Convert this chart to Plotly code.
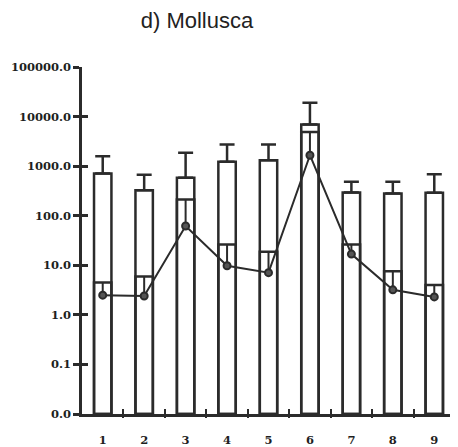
import plotly.graph_objects as go

categories = [1, 2, 3, 4, 5, 6, 7, 8, 9]
x_labels = ["1", "2", "3", "4", "5", "6", "7", "8", "9"]
outer_values = [713, 328, 581, 1222, 1321, 6900, 295, 282, 290]
outer_upper = [1592, 668, 1853, 2736, 2736, 18900, 483, 483, 690]
inner_values = [4.5, 5.9, 213, 26.4, 18.7, 4900, 26.4, 7.6, 4.0]
line_values = [2.5, 2.4, 62, 9.8, 7.1, 1660, 16.8, 3.2, 2.3]
y_tickvals = [0.01, 0.1, 1, 10, 100, 1000, 10000, 100000]
y_ticktext = ["0.0", "0.1", "1.0", "10.0", "100.0", "1000.0", "10000.0", "100000.0"]
boundaries = [1.5, 2.5, 3.5, 4.5, 5.5, 6.5, 7.5, 8.5]

INK = "#2b2b2b"
tick_font = dict(family="DejaVu Serif", size=11.5, color="#1e1e1e", weight="bold")

fig = go.Figure()
fig.add_trace(go.Bar(
    x=categories, y=outer_values, width=0.42,
    marker=dict(color="white", line=dict(color=INK, width=2.5)),
    error_y=dict(type="data", symmetric=False,
                 array=[u - v for u, v in zip(outer_upper, outer_values)],
                 arrayminus=[0] * len(outer_values),
                 color=INK, thickness=2.5, width=7.5),
    base=0.01,
))
fig.add_trace(go.Bar(
    x=categories, y=inner_values, width=0.42,
    marker=dict(color="rgba(0,0,0,0)", line=dict(color=INK, width=2.5)),
    base=0.01,
))
fig.add_trace(go.Scatter(
    x=categories, y=line_values, mode="lines+markers",
    line=dict(color=INK, width=2),
    marker=dict(symbol="circle", size=7, color="#555", line=dict(color=INK, width=2)),
    error_y=dict(type="data", symmetric=False,
                 array=[i - v for i, v in zip(inner_values, line_values)],
                 arrayminus=[0] * len(line_values),
                 color=INK, thickness=2, width=0),
))
# invisible helper traces for the crossing ticks
fig.add_trace(go.Scatter(x=[1], y=[1], xaxis="x2", yaxis="y2", mode="markers",
                         marker=dict(opacity=0), hoverinfo="skip"))
fig.add_trace(go.Scatter(x=[1], y=[1], xaxis="x3", yaxis="y", mode="markers",
                         marker=dict(opacity=0), hoverinfo="skip"))

fig.update_layout(
    width=458, height=447,
    margin=dict(l=74, r=11, t=59, b=41, autoexpand=False),
    paper_bgcolor="white", plot_bgcolor="white",
    barmode="overlay", showlegend=False,
    title=dict(text="d) Mollusca", x=189 / 458, xanchor="center",
               y=1 - 20 / 447, yanchor="bottom",
               font=dict(family="Liberation Sans, Arial", size=22, color="#222")),
    xaxis=dict(range=[0.5, 9.5], tickmode="array", tickvals=categories, ticktext=x_labels,
               ticks="", showgrid=False, zeroline=False, automargin=False,
               showline=True, linecolor=INK, linewidth=2.5,
               tickfont=tick_font, ticklabelstandoff=13),
    yaxis=dict(type="log", range=[-2, 5], tickmode="array", tickvals=y_tickvals,
               ticktext=y_ticktext, ticks="outside", ticklen=6, tickwidth=2.5, tickcolor=INK,
               showgrid=False, zeroline=False, showline=True, linecolor=INK, linewidth=2.5,
               tickfont=tick_font, ticklabelstandoff=0, automargin=False),
    xaxis2=dict(overlaying="x", range=[0.5, 9.5], tickmode="array", tickvals=boundaries,
                ticks="inside", ticklen=5, tickwidth=2, tickcolor=INK, showticklabels=False,
                showgrid=False, zeroline=False, side="bottom", anchor="y2", automargin=False),
    yaxis2=dict(overlaying="y", type="log", range=[-2, 5], tickmode="array", tickvals=y_tickvals,
                ticks="inside", ticklen=6, tickwidth=2.5, tickcolor=INK, showticklabels=False,
                showgrid=False, zeroline=False, anchor="x2", side="left", automargin=False),
    xaxis3=dict(overlaying="x", range=[0.5, 9.5], tickmode="array",
                tickvals=boundaries, ticks="outside", ticklen=3, tickwidth=2,
                tickcolor=INK, showticklabels=False, showgrid=False,
                zeroline=False, side="bottom", anchor="y", automargin=False),
)

fig.write_html("out.html")
